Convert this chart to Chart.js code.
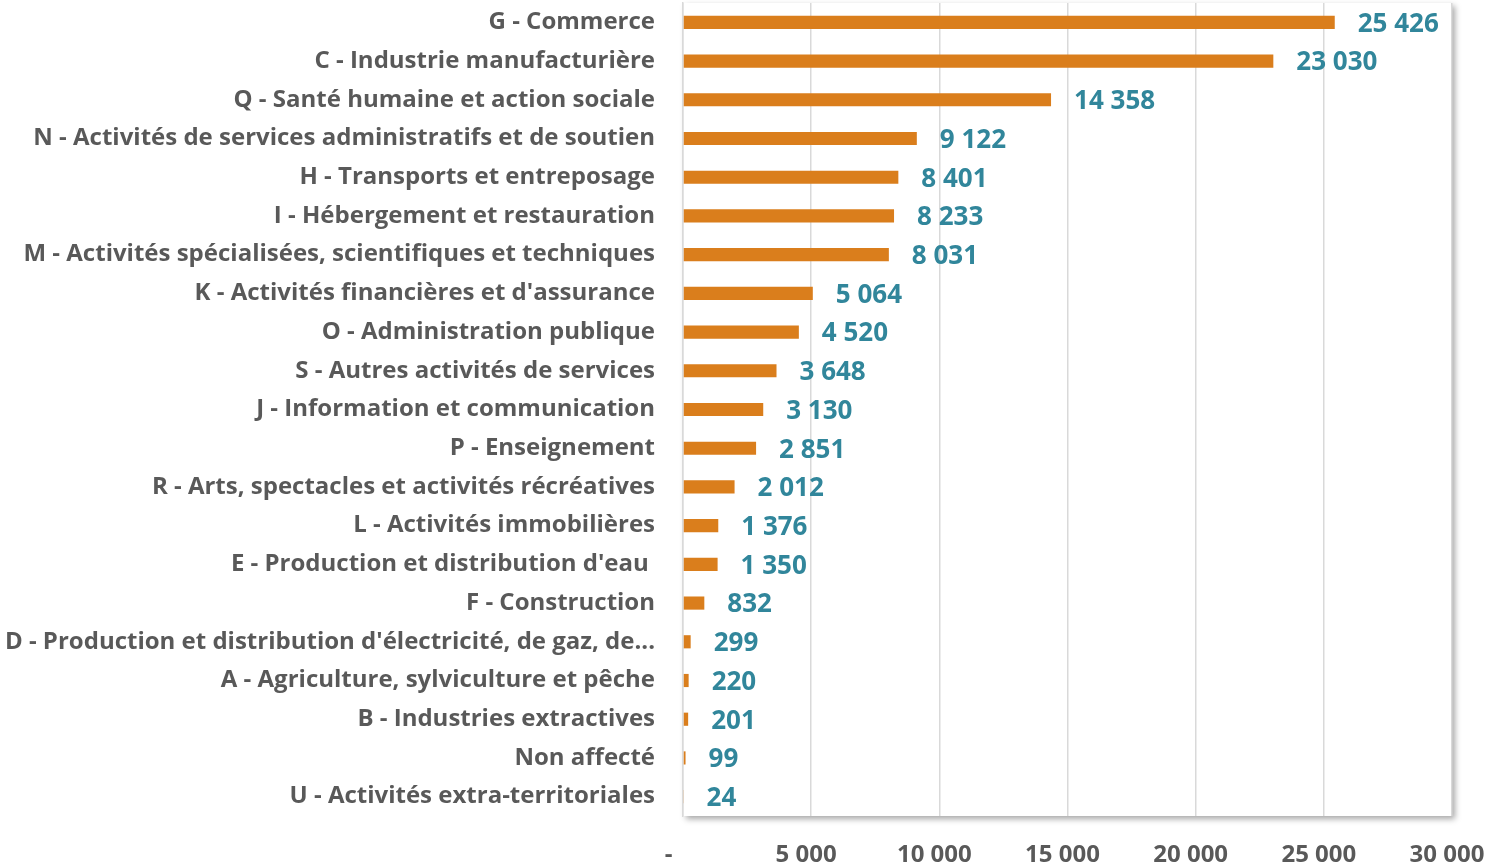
<!DOCTYPE html>
<html>
<head>
<meta charset="utf-8">
<script src="https://cdn.jsdelivr.net/npm/chart.js@4.4.1/dist/chart.umd.min.js"></script>
<style>
  html, body { margin: 0; padding: 0; background: #fff; }
  #wrap { width: 1490px; height: 866px; }
</style>
</head>
<body>
<div id="wrap"><canvas id="sectorChart"></canvas></div>
<script>
const categories = [
    'G - Commerce',
    'C - Industrie manufacturière',
    'Q - Santé humaine et action sociale',
    'N - Activités de services administratifs et de soutien',
    'H - Transports et entreposage',
    'I - Hébergement et restauration',
    'M - Activités spécialisées, scientifiques et techniques',
    "K - Activités financières et d'assurance",
    'O - Administration publique',
    'S - Autres activités de services',
    'J - Information et communication',
    'P - Enseignement',
    'R - Arts, spectacles et activités récréatives',
    'L - Activités immobilières',
    "E - Production et distribution d'eau ",
    'F - Construction',
    "D - Production et distribution d'électricité, de gaz, de...",
    'A - Agriculture, sylviculture et pêche',
    'B - Industries extractives',
    'Non affecté',
    'U - Activités extra-territoriales'
];
const values = [25426, 23030, 14358, 9122, 8401, 8233, 8031, 5064, 4520, 3648, 3130, 2851, 2012, 1376, 1350, 832, 299, 220, 201, 99, 24];
const xTicks = [0, 5000, 10000, 15000, 20000, 25000, 30000];

const FONT = '"Open Sans", "Noto Sans", sans-serif';

// 25426 -> "25 426"
const fmt = v => String(Math.round(v)).replace(/\B(?=(\d{3})+(?!\d))/g, ' ');

/* ===== plot area with soft shadow ===== */
const plotShadow = {
    id: 'plotShadow',
    beforeDraw(chart) {
        const { ctx, chartArea: a } = chart;
        ctx.save();
        ctx.shadowColor = 'rgba(0,0,0,0.35)';
        ctx.shadowBlur = 6;
        ctx.shadowOffsetX = 3;
        ctx.shadowOffsetY = 3;
        ctx.fillStyle = '#fff';
        ctx.fillRect(a.left, a.top, a.right - a.left, a.bottom - a.top);
        ctx.restore();
    }
};

/* ===== value labels after each bar ===== */
const barLabels = {
    id: 'barLabels',
    afterDatasetsDraw(chart) {
        const { ctx } = chart;
        const meta = chart.getDatasetMeta(0);
        ctx.save();
        ctx.font = 'bold 26px ' + FONT;
        ctx.fillStyle = '#31869B';
        ctx.textAlign = 'left';
        ctx.textBaseline = 'middle';
        meta.data.forEach((bar, i) => {
            ctx.fillText(fmt(values[i]), bar.x + 23, bar.y + 2);
        });
        ctx.restore();
    }
};

new Chart(document.getElementById('sectorChart'), {
    type: 'bar',
    data: {
        labels: categories,
        datasets: [{
            data: values,
            backgroundColor: '#DA7E1C',
            categoryPercentage: 0.34,
            barPercentage: 1
        }]
    },
    options: {
        indexAxis: 'y',
        responsive: true,
        maintainAspectRatio: false,
        animation: false,
        layout: { padding: { top: 3, right: 38, left: 0, bottom: 0 } },
        plugins: {
            legend: { display: false },
            tooltip: { enabled: false }
        },
        scales: {
            x: {
                min: 0,
                max: 30000,
                afterBuildTicks: s => { s.ticks = xTicks.map(v => ({ value: v })); },
                afterFit: s => { s.height = 50; s.paddingLeft = 0; s.paddingRight = 0; },
                grid: { color: '#D9D9D9', lineWidth: 1.5, drawTicks: false },
                border: { display: false },
                ticks: {
                    padding: 25,
                    labelOffset: -5,
                    color: '#595959',
                    font: { family: FONT, size: 24, weight: 'bold' },
                    callback: v => v === 0 ? '-   ' : fmt(v)
                }
            },
            y: {
                afterFit: s => { s.width = 683; s.paddingTop = 0; s.paddingBottom = 0; },
                grid: { display: false, drawTicks: false },
                border: { display: true, color: '#D9D9D9', width: 1.5 },
                ticks: {
                    padding: 28,
                    color: '#595959',
                    font: { family: FONT, size: 24, weight: 'bold' },
                    autoSkip: false
                }
            }
        }
    },
    plugins: [plotShadow, barLabels]
});
</script>
</body>
</html>
